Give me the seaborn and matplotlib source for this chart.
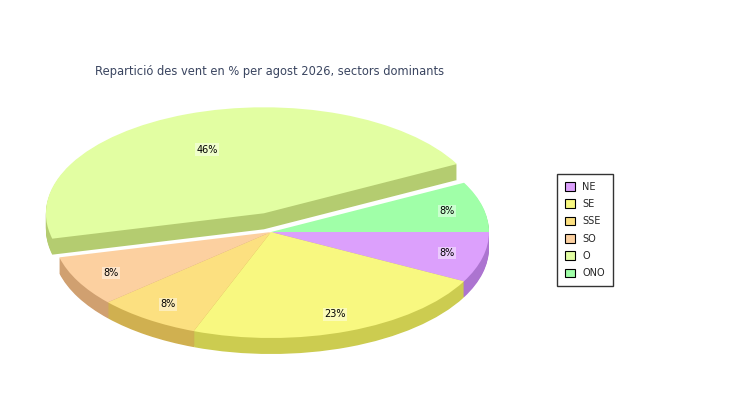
"""
Wind sector distribution - 3D style pie (August 2026)
"""

import matplotlib
matplotlib.use('Agg')
import matplotlib.pyplot as plt
from matplotlib.patches import Patch
import numpy as np
import seaborn as sns

# Data
sectors = ['NE', 'SE', 'SSE', 'SO', 'O', 'ONO']
counts = [1, 3, 1, 1, 6, 1]
top_colors = ['#DCA0FC', '#F8F880', '#FCE080', '#FCD0A0', '#E2FEA2', '#A0FFA8']
side_colors = ['#AC74D0', '#CCCC50', '#D0B050', '#D0A070', '#B4CC70', '#7CD084']
explode_sector = 'O'

title = 'Repartició des vent en % per agost 2026, sectors dominants'

sns.set_style('white')
plt.rcParams['font.family'] = ['DejaVu Sans']

# Geometry (pixels)
W, H = 750, 400
cx_px, cy_px = 271, 232
rx, ry = 218, 106
depth = 16
explode_px = 20
aspect = ry / rx

fig = plt.figure(figsize=(W / 100, H / 100), dpi=100)
ax = fig.add_axes([0, 0, 1, 1])

cx, cy = cx_px, (H - cy_px) / aspect

# explode offset: fixed pixel distance along the slice's mid angle
idx = sectors.index(explode_sector)
frac = np.cumsum([0] + counts) / sum(counts)
mid = np.deg2rad(-360 * (frac[idx] + frac[idx + 1]) / 2)
off_x = explode_px * np.cos(mid)
off_y = explode_px * np.sin(mid) / aspect


def draw_layer(dy, colors, labels=False):
    kw = dict(autopct='%1.0f%%', pctdistance=0.83,
              textprops=dict(fontsize=7, color='black')) if labels else {}
    res = ax.pie(counts, colors=colors, radius=rx, center=(cx, cy - dy),
                 startangle=0, counterclock=False, frame=True,
                 wedgeprops=dict(linewidth=0), **kw)
    w = res[0][idx]
    w.set_center((cx + off_x, cy - dy + off_y))
    return res


# side walls: stacked darker layers
for k in range(depth, 0, -1):
    draw_layer(k / aspect, side_colors)

# top face
wedges, texts, autotexts = draw_layer(0, top_colors, labels=True)
for t in autotexts:
    t.set_bbox(dict(facecolor='white', alpha=0.45, edgecolor='none', pad=1))

ax.set_xlim(0, W)
ax.set_ylim(0, H / aspect)
ax.set_aspect('auto')
ax.axis('off')

fig.text(95 / W, 1 - 72 / H, title, ha='left', va='center',
         fontsize=8.3, color='#3a4560')

handles = [Patch(facecolor=c, edgecolor='black', linewidth=0.8, label=s)
           for s, c in zip(sectors, top_colors)]
leg = fig.legend(handles=handles, loc='upper left',
                 bbox_to_anchor=(557 / W, 1 - 174 / H), fontsize=7,
                 frameon=True, fancybox=False, edgecolor='black',
                 handlelength=1.0, handleheight=1.0, handletextpad=0.8,
                 labelspacing=0.75, borderpad=0.8, borderaxespad=0)
leg.get_frame().set_linewidth(1)

plt.savefig('out.png', dpi=100)
plt.close()
